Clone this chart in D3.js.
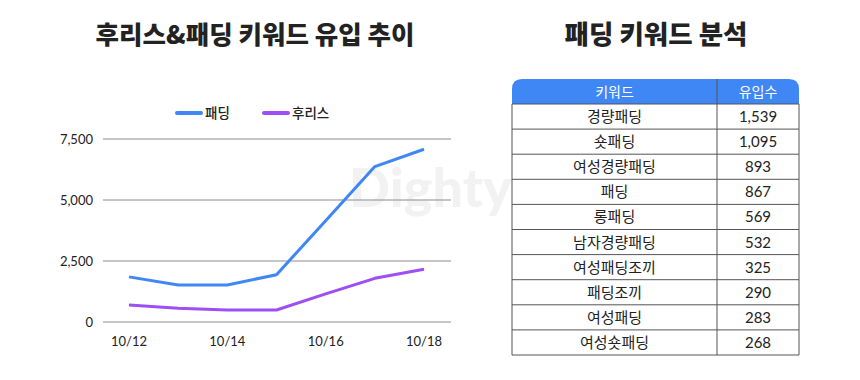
<!DOCTYPE html>
<html><head><meta charset="utf-8">
<script src="https://cdn.jsdelivr.net/npm/d3@7"></script>
<style>body{margin:0;background:#fff;} text{font-family:Lato,'Noto Sans CJK KR',sans-serif;}</style>
</head><body>
<svg id="c" width="860" height="380"></svg>
<script>
const dates = ["10/12","10/13","10/14","10/15","10/16","10/17","10/18"];
const padding = [1850,1520,1520,1940,4150,6370,7080];
const fleece = [700,560,490,490,1150,1790,2160];
const yTicks = [0,2500,5000,7500];
const xTickLabels = ["10/12","10/14","10/16","10/18"];
const keywords = ["경량패딩","숏패딩","여성경량패딩","패딩","롱패딩","남자경량패딩","여성패딩조끼","패딩조끼","여성패딩","여성숏패딩"];
const counts = [1539,1095,893,867,569,532,325,290,283,268];

const svg = d3.select("#c");
const kr = "'Noto Sans CJK KR',sans-serif";
const blue = "#3f87f5", purple = "#9d4ef4";

// titles
svg.append("text").attr("x",255).attr("y",44).attr("text-anchor","middle")
  .style("font-family",kr).style("font-weight",800).style("font-size","25.5px").attr("fill","#222").text("후리스&패딩 키워드 유입 추이");
svg.append("text").attr("x",656).attr("y",44).attr("text-anchor","middle")
  .style("font-family",kr).style("font-weight",800).style("font-size","26.5px").attr("fill","#222").text("패딩 키워드 분석");

// watermark
svg.append("text").attr("x",349).attr("y",207).style("font-family","Lato,sans-serif").style("font-weight",900)
  .style("font-size","54px").attr("fill","#f2f2f2").text("Dighty");

const x = d3.scalePoint().domain(dates).range([129,424]);
const y = d3.scaleLinear().domain([0,7500]).range([322,139]);

const g = svg.append("g");
g.selectAll("line.grid").data(yTicks).join("line").attr("class","grid")
  .attr("x1",103).attr("x2",451).attr("y1",d=>y(d)).attr("y2",d=>y(d))
  .attr("stroke","#8c8c8c").attr("stroke-width",1);
g.selectAll("text.yl").data(yTicks).join("text").attr("class","yl")
  .attr("x",93).attr("y",d=>y(d)+5).attr("text-anchor","end")
  .style("font-size","13px").attr("fill","#222").text(d=>d3.format(",")(d));
g.selectAll("text.xl").data(xTickLabels).join("text").attr("class","xl")
  .attr("x",d=>x(d)).attr("y",346).attr("text-anchor","middle")
  .style("font-size","13px").attr("fill","#222").text(d=>d);

const line = d3.line().x((d,i)=>x(dates[i])).y(d=>y(d));
g.append("path").datum(fleece).attr("d",line).attr("fill","none").attr("stroke",purple).attr("stroke-width",3).attr("stroke-linejoin","round");
g.append("path").datum(padding).attr("d",line).attr("fill","none").attr("stroke",blue).attr("stroke-width",3).attr("stroke-linejoin","round");

// legend
const leg = [{n:"패딩",c:blue,x:177},{n:"후리스",c:purple,x:264}];
leg.forEach(l=>{
  svg.append("line").attr("x1",l.x).attr("x2",l.x+24).attr("y1",113).attr("y2",113).attr("stroke",l.c).attr("stroke-width",4).attr("stroke-linecap","round");
  svg.append("text").attr("x",l.x+28).attr("y",118).style("font-family",kr).style("font-weight",500).style("font-size","13.5px").attr("fill","#222").text(l.n);
});

// table
const tx0=512, tx1=799, tdiv=717, ty0=79, hh=25, rh=25.1;
const r=10;
svg.append("path").attr("d",`M${tx0},${ty0+hh} L${tx0},${ty0+r} Q${tx0},${ty0} ${tx0+r},${ty0} L${tx1-r},${ty0} Q${tx1},${ty0} ${tx1},${ty0+r} L${tx1},${ty0+hh} Z`).attr("fill",blue);
svg.append("line").attr("x1",tdiv).attr("x2",tdiv).attr("y1",ty0).attr("y2",ty0+hh).attr("stroke","#555").attr("stroke-width",1);
svg.append("text").attr("x",(tx0+tdiv)/2).attr("y",ty0+18).attr("text-anchor","middle").style("font-family",kr).style("font-size","14px").attr("fill","#fff").text("키워드");
svg.append("text").attr("x",(tdiv+tx1)/2).attr("y",ty0+18).attr("text-anchor","middle").style("font-family",kr).style("font-size","14px").attr("fill","#fff").text("유입수");
const rows = keywords.map((k,i)=>({k,v:counts[i],i}));
const body = svg.append("g");
const by0 = ty0+hh;
body.selectAll("line.h").data(d3.range(rows.length+1)).join("line")
  .attr("x1",tx0).attr("x2",tx1).attr("y1",i=>by0+i*rh).attr("y2",i=>by0+i*rh).attr("stroke","#555").attr("stroke-width",1);
[tx0,tdiv,tx1].forEach(xx=>body.append("line").attr("x1",xx).attr("x2",xx).attr("y1",by0).attr("y2",by0+rows.length*rh).attr("stroke","#555").attr("stroke-width",1));
body.selectAll("text.k").data(rows).join("text").attr("x",(tx0+tdiv)/2).attr("y",d=>by0+d.i*rh+18)
  .attr("text-anchor","middle").style("font-family",kr).style("font-size","15px").attr("fill","#222").text(d=>d.k);
body.selectAll("text.v").data(rows).join("text").attr("x",(tdiv+tx1)/2).attr("y",d=>by0+d.i*rh+18)
  .attr("text-anchor","middle").style("font-family","Lato,sans-serif").style("font-size","15px").attr("fill","#222").text(d=>d3.format(",")(d.v));
</script>
</body></html>
